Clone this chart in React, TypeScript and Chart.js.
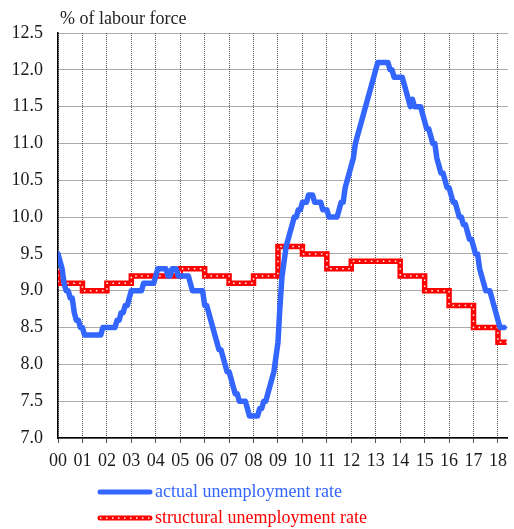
import { useEffect, useRef } from "react";
import { Chart, registerables } from "chart.js";

Chart.register(...registerables);

// ---- Data ----
const yearTicks = [0, 1, 2, 3, 4, 5, 6, 7, 8, 9, 10, 11, 12, 13, 14, 15, 16, 17, 18];
const yearLabels = ["00", "01", "02", "03", "04", "05", "06", "07", "08", "09", "10", "11", "12", "13", "14", "15", "16", "17", "18"];
const yTicks = [7.0, 7.5, 8.0, 8.5, 9.0, 9.5, 10.0, 10.5, 11.0, 11.5, 12.0, 12.5];

// actual unemployment rate, monthly, Jan..Dec
const actual2000 = [9.5, 9.4, 9.3, 9.1, 9.0, 9.0, 8.9, 8.9, 8.7, 8.6, 8.6, 8.5];
const actual2001 = [8.5, 8.4, 8.4, 8.4, 8.4, 8.4, 8.4, 8.4, 8.4, 8.4, 8.5, 8.5];
const actual2002 = [8.5, 8.5, 8.5, 8.5, 8.5, 8.6, 8.6, 8.7, 8.7, 8.8, 8.8, 8.9];
const actual2003 = [9.0, 9.0, 9.0, 9.0, 9.0, 9.0, 9.1, 9.1, 9.1, 9.1, 9.1, 9.1];
const actual2004 = [9.2, 9.3, 9.3, 9.3, 9.3, 9.3, 9.2, 9.2, 9.3, 9.3, 9.3, 9.2];
const actual2005 = [9.2, 9.2, 9.2, 9.2, 9.2, 9.1, 9.0, 9.0, 9.0, 9.0, 9.0, 9.0];
const actual2006 = [8.8, 8.8, 8.7, 8.6, 8.5, 8.4, 8.3, 8.2, 8.2, 8.1, 8.0, 7.9];
const actual2007 = [7.9, 7.8, 7.7, 7.6, 7.6, 7.5, 7.5, 7.5, 7.5, 7.4, 7.3, 7.3];
const actual2008 = [7.3, 7.3, 7.3, 7.4, 7.4, 7.5, 7.5, 7.6, 7.7, 7.8, 7.9, 8.1];
const actual2009 = [8.3, 8.8, 9.2, 9.4, 9.6, 9.7, 9.8, 9.9, 10.0, 10.0, 10.1, 10.1];
const actual2010 = [10.2, 10.2, 10.2, 10.3, 10.3, 10.3, 10.2, 10.2, 10.2, 10.2, 10.1, 10.1];
const actual2011 = [10.1, 10.0, 10.0, 10.0, 10.0, 10.0, 10.1, 10.2, 10.2, 10.4, 10.5, 10.6];
const actual2012 = [10.7, 10.8, 11.0, 11.1, 11.2, 11.3, 11.4, 11.5, 11.6, 11.7, 11.8, 11.9];
const actual2013 = [12.0, 12.1, 12.1, 12.1, 12.1, 12.1, 12.1, 12.0, 12.0, 11.9, 11.9, 11.9];
const actual2014 = [11.9, 11.9, 11.8, 11.7, 11.6, 11.5, 11.6, 11.5, 11.5, 11.5, 11.5, 11.4];
const actual2015 = [11.3, 11.2, 11.2, 11.1, 11.0, 11.0, 10.8, 10.7, 10.6, 10.6, 10.5, 10.4];
const actual2016 = [10.4, 10.3, 10.2, 10.2, 10.1, 10.0, 10.0, 9.9, 9.9, 9.8, 9.7, 9.7];
const actual2017 = [9.6, 9.5, 9.5, 9.3, 9.2, 9.1, 9.0, 9.0, 9.0, 8.9, 8.8, 8.7];
const actual2018 = [8.6, 8.5, 8.5, 8.5];

const actualByYear = [
  actual2000, actual2001, actual2002, actual2003, actual2004, actual2005, actual2006,
  actual2007, actual2008, actual2009, actual2010, actual2011, actual2012, actual2013,
  actual2014, actual2015, actual2016, actual2017, actual2018,
];

// structural unemployment rate, annual
const structuralStart = 9.3;
const structuralAnnual = [9.1, 9.0, 9.1, 9.2, 9.2, 9.3, 9.2, 9.1, 9.2, 9.6, 9.5, 9.3, 9.4, 9.4, 9.2, 9.0, 8.8, 8.5, 8.3];
const structuralEnd = 18.36; // end of plotted period (years since 2000)

const seriesNames = ["actual unemployment rate", "structural unemployment rate"];
const yAxisTitle = "% of labour force";

const BLUE = "#3366ff";
const RED = "#ff0000";
const FONT = '"Liberation Serif", "DejaVu Serif", serif';

const actualPoints = actualByYear.flatMap((vals, yi) =>
  vals.map((v, m) => ({ x: yearTicks[yi] + m / 12, y: v }))
);
const structuralPoints = [
  { x: yearTicks[0], y: structuralStart },
  ...structuralAnnual.map((v, i) => ({ x: yearTicks[i], y: v })),
  { x: structuralEnd, y: structuralAnnual[structuralAnnual.length - 1] },
];

const textPlugin = {
  id: "texts",
  afterDraw(chart: any) {
    const { ctx, chartArea } = chart;
    ctx.save();
    ctx.font = `18px ${FONT}`;
    ctx.textAlign = "left";
    ctx.textBaseline = "alphabetic";
    ctx.fillStyle = "#222";
    ctx.fillText(yAxisTitle, chartArea.left + 2, chartArea.top - 9);

    const x0 = chartArea.left + 40;
    const x1 = chartArea.left + 94;
    const ly1 = chartArea.bottom + 54;
    const ly2 = chartArea.bottom + 80;

    // blue legend line
    ctx.lineCap = "round";
    ctx.strokeStyle = BLUE;
    ctx.lineWidth = 5;
    ctx.beginPath();
    ctx.moveTo(x0 + 2, ly1);
    ctx.lineTo(x1 - 2, ly1);
    ctx.stroke();

    // red legend line with white dots
    ctx.strokeStyle = RED;
    ctx.beginPath();
    ctx.moveTo(x0 + 2, ly2);
    ctx.lineTo(x1 - 2, ly2);
    ctx.stroke();
    ctx.lineCap = "butt";
    ctx.strokeStyle = "#ffffff";
    ctx.lineWidth = 1.5;
    ctx.setLineDash([1.5, 4.5]);
    ctx.beginPath();
    ctx.moveTo(x0 + 2, ly2);
    ctx.lineTo(x1 - 2, ly2);
    ctx.stroke();
    ctx.setLineDash([]);

    ctx.fillStyle = BLUE;
    ctx.fillText(seriesNames[0], x1 + 3, ly1 + 5);
    ctx.fillStyle = RED;
    ctx.fillText(seriesNames[1], x1 + 3, ly2 + 5);
    ctx.restore();
  },
};

export default function App() {
  const ref = useRef<HTMLCanvasElement | null>(null);

  useEffect(() => {
    if (!ref.current) return;
    const chart = new Chart(ref.current, {
      type: "line",
      data: {
        datasets: [
          {
            label: seriesNames[0],
            data: actualPoints,
            borderColor: BLUE,
            backgroundColor: BLUE,
            borderWidth: 5.5,
            pointRadius: 0,
            tension: 0,
            borderJoinStyle: "round",
            borderCapStyle: "round",
            order: 0,
          },
          {
            label: "dots",
            data: structuralPoints,
            borderColor: "#ffffff",
            borderWidth: 1.5,
            borderDash: [1.5, 4.5],
            pointRadius: 0,
            stepped: true,
            tension: 0,
            order: 1,
          },
          {
            label: seriesNames[1],
            data: structuralPoints,
            borderColor: RED,
            backgroundColor: RED,
            borderWidth: 5.5,
            pointRadius: 0,
            stepped: true,
            tension: 0,
            order: 2,
          },
        ],
      },
      options: {
        animation: false,
        responsive: true,
        maintainAspectRatio: false,
        parsing: false,
        normalized: true,
        font: { family: FONT },
        layout: { padding: { left: 0, top: 33, right: 2, bottom: 61 } },
        plugins: {
          legend: { display: false },
          tooltip: { enabled: false },
          title: { display: false },
        },
        scales: {
          x: {
            type: "linear",
            min: 0,
            max: 18.4,
            afterBuildTicks: (s: any) => {
              s.ticks = yearTicks.map((v) => ({ value: v }));
            },
            afterFit: (s: any) => {
              s.height = 30;
            },
            ticks: {
              autoSkip: false,
              maxRotation: 0,
              minRotation: 0,
              padding: 7,
              color: "#1a1a1a",
              font: { family: FONT, size: 18 },
              callback: (v: any) => {
                const i = yearTicks.indexOf(Number(v));
                return i >= 0 ? yearLabels[i] : "";
              },
            },
            grid: {
              color: "#555",
              lineWidth: 1,
              drawTicks: true,
              tickLength: 5,
            },
            border: { display: true, color: "#000", width: 1.5, dash: [1, 1] },
          },
          y: {
            type: "linear",
            min: 7,
            max: 12.5,
            afterBuildTicks: (s: any) => {
              s.ticks = yTicks.map((v) => ({ value: v }));
            },
            afterFit: (s: any) => {
              s.width = 58;
            },
            ticks: {
              padding: 15,
              color: "#1a1a1a",
              font: { family: FONT, size: 18 },
              callback: (v: any) => Number(v).toFixed(1),
            },
            grid: {
              color: "#555",
              lineWidth: 1,
              drawTicks: false,
            },
            border: { display: true, color: "#000", width: 1.5, dash: [1, 1] },
          },
        },
      },
      plugins: [textPlugin],
    });
    return () => chart.destroy();
  }, []);

  return (
    <div style={{ position: "fixed", left: 0, top: 0, width: 514, height: 529, background: "#fff" }}>
      <canvas ref={ref} />
    </div>
  );
}
